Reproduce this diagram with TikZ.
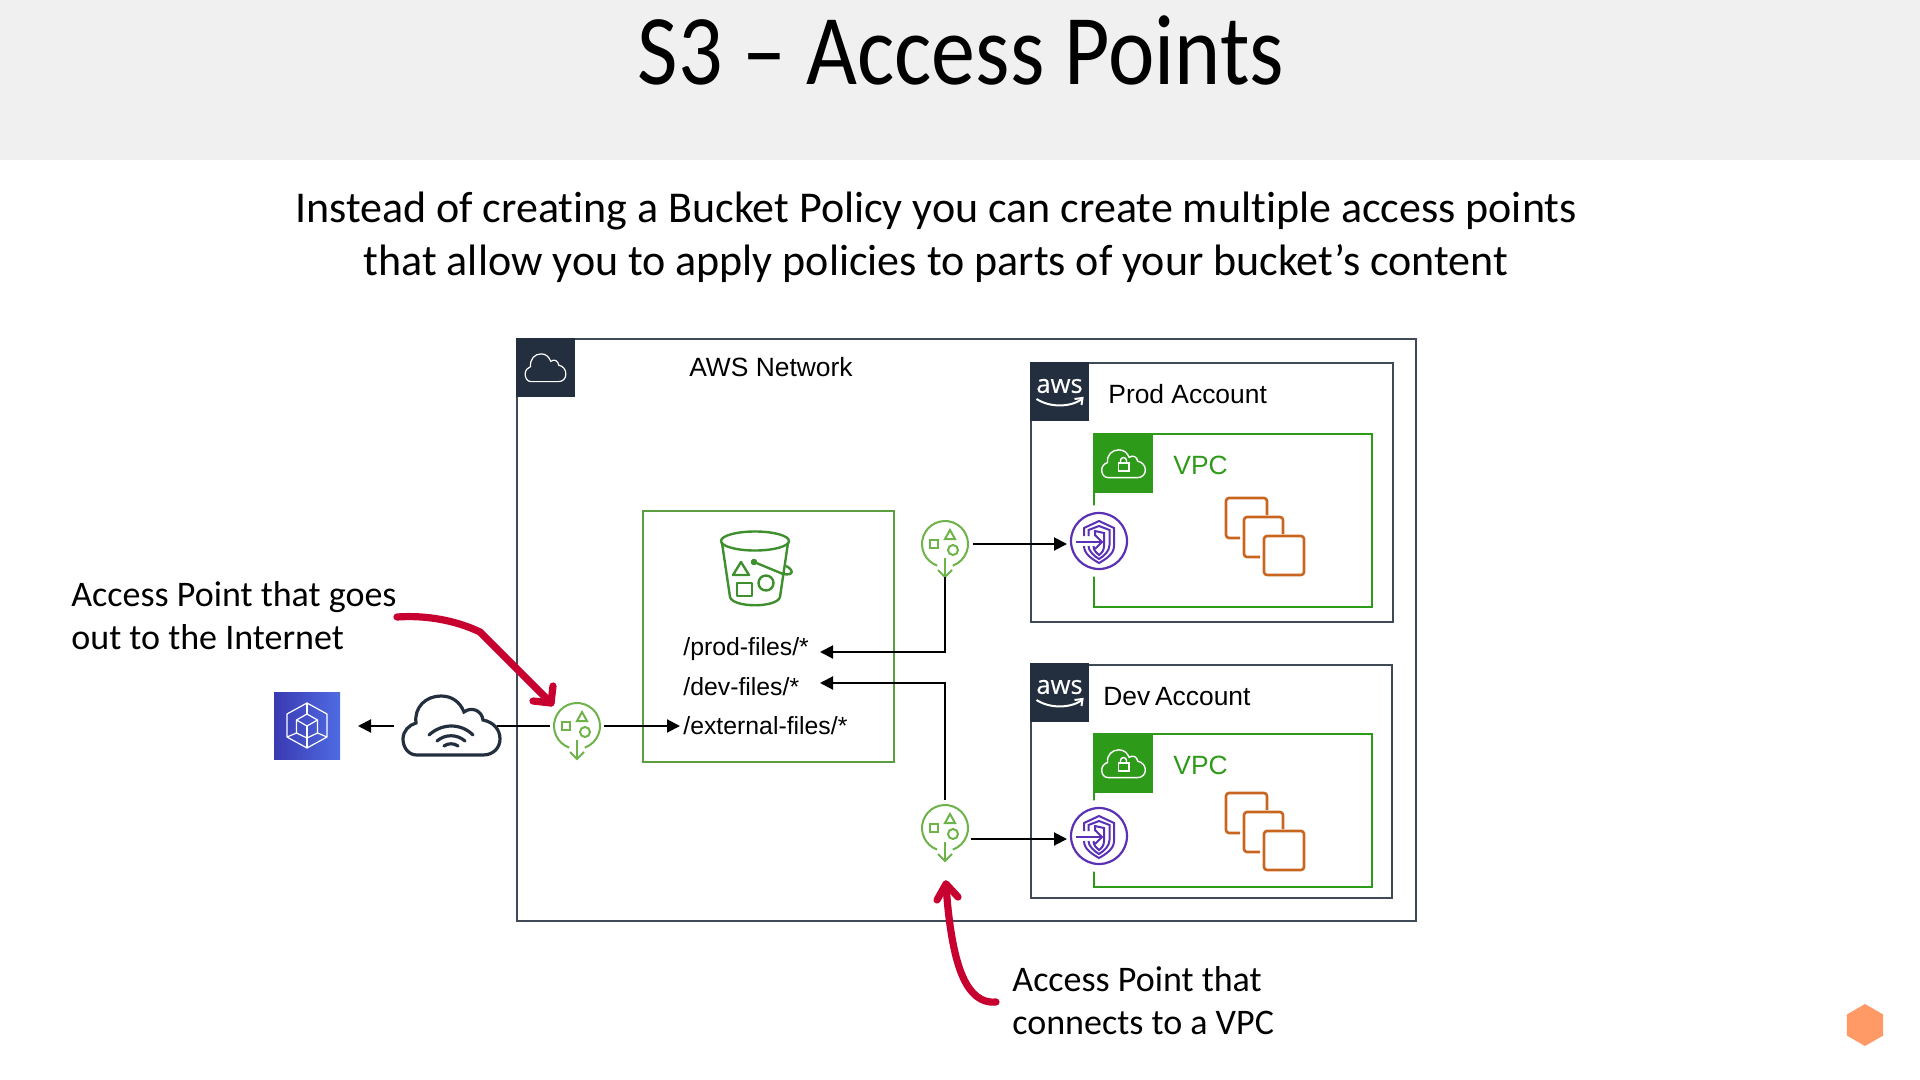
\documentclass[tikz,border=0pt]{standalone}
\usepackage{fontspec}
\usepackage{tikz}
\usetikzlibrary{arrows.meta, positioning, shapes.geometric}
\setmainfont[Ligatures=CommonOff]{Carlito}
\newfontfamily\titlefont[FakeStretch=0.88]{Carlito}
\newfontfamily\arialfont{Liberation Sans}
\newfontfamily\awsfont[FakeBold=0.3]{Open Sans}

\definecolor{awsdark}{HTML}{232F3E}
\definecolor{boxgrey}{HTML}{3F4A56}
\definecolor{vpcgreen}{HTML}{2E9A1A}
\definecolor{bucketgreen}{HTML}{5A9E3F}
\definecolor{bucketicon}{HTML}{3F8F2F}
\definecolor{apgreen}{HTML}{6DB34A}
\definecolor{iconpurple}{HTML}{5A30B5}
\definecolor{ecorange}{HTML}{C8651E}
\definecolor{redmark}{HTML}{C8002F}
\definecolor{cubeleft}{HTML}{3A3AB2}
\definecolor{cuberight}{HTML}{4F6BE2}
\definecolor{logoorange}{HTML}{FF9966}

% one unit is one pixel of the slide
\tikzset{
    cloudshape/.pic={
        \draw (-34.5,30) .. controls (-43.5,30) and (-48.5,22) .. (-48.5,14)
            .. controls (-48.5,6) and (-42.5,0) .. (-35.5,-2)
            .. controls (-37.5,-18) and (-25.5,-29) .. (-10.5,-29)
            .. controls (0.5,-29) and (8.5,-23) .. (12.5,-13)
            .. controls (20.5,-19) and (30.5,-14) .. (31.5,-5)
            .. controls (41.5,-3) and (48.5,4) .. (48.5,14)
            .. controls (48.5,23) and (41.5,30) .. (31.5,30) -- cycle;
    },
    stackshape/.pic={
        \draw (2,-21) -- (2,-38) -- (-39,-38) -- (-39,2) -- (-25,2);
        \draw (18,-2) -- (18,-19) -- (-21,-19) -- (-21,21) -- (-5,21);
        \draw (-1,0) rectangle (39,39);
    }
}

% access point: name, position
\newcommand{\apicon}[2]{
    \node[apnode] (#1) at (#2) {};
    \begin{scope}[shift={(#1)}, apline]
        \draw (110:23) arc[start angle=110, end angle=430, radius=23];
        \draw (-15,-4) rectangle (-7,4);
        \draw (5,-14) -- (10,-5) -- (0,-5) -- cycle;
        \draw (8,6) circle (5);
        \draw (0,14) -- (0,33);
        \draw (-7,26) -- (0,33) -- (7,26);
    \end{scope}
}
% vpc endpoint: name, position
\newcommand{\epicon}[2]{
    \fill[white] (#2) circle (36);
    \node[epnode] (#1) at (#2) {};
    \begin{scope}[shift={(#1)}, epline]
        \draw (-15,-5) -- (-15,-13) -- (0,-20) -- (15,-13) -- (15,5)
            .. controls (15,13) and (7,18) .. (0,22)
            .. controls (-7,18) and (-15,13) .. (-15,5);
        \draw (-10.5,-5) -- (-10.5,-11) -- (0,-15) -- (10.5,-11) -- (10.5,4)
            .. controls (10.5,10) and (5,15) .. (0,18)
            .. controls (-5,15) and (-10.5,10) .. (-10.5,5);
        \draw (-5.5,5) .. controls (-5.5,10) and (-2,12) .. (0,14)
            .. controls (3,12) and (5,9) .. (5,5) -- (5,-8) -- (-4,-10) -- (-4,-5);
        \draw (-23,1) -- (3,1);
        \draw (-4,-6) -- (3,1) -- (-4,8);
    \end{scope}
}
% aws badge: name, north west corner
\newcommand{\awsbadge}[2]{
    \node[badge, anchor=north west] (#1) at (#2) {};
    \node[font=\awsfont\fontsize{12.8}{13}\selectfont, text=white, inner sep=0pt, yshift=2.75pt] (#1text) at (#1) {aws};
    \draw[white, line width=1pt, shift={(#1)}] (-23,7.5) .. controls (-10,16) and (10,16) .. (22,8);
    \draw[white, line width=1pt, shift={(#1)}] (15,7.5) -- (23,6.5) -- (22,13.5);
}
% vpc badge with its cloud and lock
\newcommand{\vpcbadge}[2]{
    \node[vpcflag, anchor=north west] (#1) at (#2) {};
    \pic[xscale=.45, yscale=.47, white, line width=0.7pt] at (#1) {cloudshape};
    \draw[white, line width=0.7pt, shift={(#1)}] (-5,-0.5) rectangle (5.5,7.5);
    \draw[white, line width=0.7pt, shift={(#1)}] (-3,-0.5) -- (-3,-3) arc[start angle=180, end angle=360, radius=3] -- (3,-0.5);
}

\begin{document}
\begin{tikzpicture}[
        x=0.5pt, y=-0.5pt,
        outerbox/.style={rectangle, draw=boxgrey, line width=1pt, inner sep=0pt, outer sep=0pt, anchor=north west},
        vpcbox/.style={rectangle, draw=vpcgreen, line width=0.9pt, inner sep=0pt, outer sep=0pt, anchor=north west},
        badge/.style={rectangle, fill=awsdark, minimum size=29.5pt, inner sep=0pt, outer sep=0pt},
        vpcflag/.style={rectangle, fill=vpcgreen, minimum size=29.5pt, inner sep=0pt, outer sep=0pt},
        label/.style={font=\arialfont\fontsize{13.2}{15}\selectfont, inner sep=0pt, anchor=west},
        pathlabel/.style={font=\arialfont\fontsize{12.4}{15}\selectfont, inner sep=0pt, anchor=west},
        note/.style={font=\fontsize{18}{21.5}\selectfont, align=left, inner sep=0pt, anchor=west},
        apnode/.style={circle, minimum size=23pt, inner sep=0pt, outer sep=0pt},
        apline/.style={draw=apgreen, line width=1pt},
        epnode/.style={circle, draw=iconpurple, line width=1.1pt, fill=white, minimum size=28pt, inner sep=0pt, outer sep=0pt},
        epline/.style={draw=iconpurple, line width=1pt},
        stackline/.style={draw=ecorange, line width=1.3pt, rounded corners=1.5pt},
        conn/.style={-{Stealth[length=6.5pt, width=6.5pt, inset=0pt]}, line width=1pt, black},
        plainline/.style={line width=1pt, black},
        redline/.style={draw=redmark, line width=3.6pt, line cap=round, line join=round}
    ]
        \useasboundingbox (0,0) rectangle (1920,1080);
        % Title band
        \node[rectangle, fill=black!6, minimum width=960pt, minimum height=80pt, inner sep=0pt, anchor=north west] (band) at (0,0) {};
        \node[font=\titlefont\fontsize{50}{50}\selectfont, inner sep=0pt] (title) at (961,50) {S3 – Access Points};
        \node[font=\fontsize{22}{26.5}\selectfont, align=center, inner sep=0pt] (intro) at (936,237) {Instead of creating a Bucket Policy you can create multiple access points\\that allow you to apply policies to parts of your bucket’s content};

        % Boxes
        \node[outerbox, minimum width=449.5pt, minimum height=291pt] (network) at (517,339) {};
        \node[badge, anchor=north west] (networkflag) at (516,338) {};
        \pic[xscale=.42, yscale=.47, white, line width=0.6pt] at (networkflag) {cloudshape};
        \node[label, anchor=center] (networktext) at (771,367) {AWS Network};

        \node[rectangle, draw=bucketgreen, line width=1pt, minimum width=125.5pt, minimum height=125.5pt, inner sep=0pt, outer sep=0pt, anchor=north west] (bucketbox) at (643,511) {};

        \node[outerbox, minimum width=181pt, minimum height=129.5pt] (prod) at (1031,363) {};
        \awsbadge{prodflag}{1030,362}
        \node[label] (prodtext) at (1108,394) {Prod Account};
        \node[vpcbox, minimum width=139pt, minimum height=86.5pt] (prodvpc) at (1094,434) {};
        \vpcbadge{prodvpcflag}{1094,434}
        \node[label, text=vpcgreen] (prodvpctext) at (1173,465) {VPC};
        \pic[stackline] at (1265,536) {stackshape};

        \node[outerbox, minimum width=180.5pt, minimum height=116.5pt] (dev) at (1031,665) {};
        \awsbadge{devflag}{1030,663}
        \node[label] (devtext) at (1103,697) {Dev\hspace{0.18em}Account};
        \node[vpcbox, minimum width=139pt, minimum height=76.5pt] (devvpc) at (1094,734) {};
        \vpcbadge{devvpcflag}{1094,734}
        \node[label, text=vpcgreen] (devvpctext) at (1173,765) {VPC};
        \pic[stackline] at (1265,831) {stackshape};

        % Bucket
        \begin{scope}[draw=bucketicon, line width=1.2pt, line join=round]
            \draw (755,541) ellipse (34 and 9.5);
            \draw (722,543) -- (730,597) .. controls (733,608) and (777,608) .. (780,597) -- (788,543);
            \draw (733,575) -- (749,575) -- (741,562) -- cycle;
            \draw (737,583) rectangle (752,596);
            \draw (766,583) circle (7.5);
            \draw[fill=bucketicon] (754,562) circle (2);
            \draw (754,562) -- (783,574) .. controls (794,576) and (794,570) .. (786,566);
        \end{scope}
        \node[pathlabel] (prodpath) at (683,649) {/prod-files/*};
        \node[pathlabel] (devpath) at (683,687) {/dev-files/*};
        \node[pathlabel] (extpath) at (683,726) {/external-files/*};

        % Icons
        \apicon{apnet}{577,726}
        \apicon{approd}{945,544}
        \apicon{apdev}{945,828}
        \epicon{epprod}{1099,541}
        \epicon{epdev}{1099,836}

        \node[rectangle, minimum width=48.5pt, minimum height=30pt, inner sep=0pt, outer sep=0pt] (internet) at (451.5,726) {};
        \pic[draw=awsdark, line width=1.6pt] at (451.5,725) {cloudshape};
        \begin{scope}[draw=awsdark, line width=1.6pt, line cap=round]
            \draw (429,735) .. controls (442,723) and (461,723) .. (473,735);
            \draw (437,741) .. controls (445,734) and (457,734) .. (465,741);
            \draw (444,746) .. controls (448,743) and (454,743) .. (458,746);
        \end{scope}

        \node[rectangle, left color=cubeleft, right color=cuberight, minimum width=33pt, minimum height=33.5pt, inner sep=0pt, outer sep=0pt] (cube) at (307,725.5) {};
        \begin{scope}[draw=white, line width=0.6pt, line join=round]
            \draw (307,703) -- (327,714) -- (327,737) -- (307,748) -- (287,737) -- (287,714) -- cycle;
            \draw (307,714) -- (317.5,720) -- (317.5,733) -- (307,738) -- (296.5,733) -- (296.5,720) -- cycle;
            \draw (296.5,720) -- (307,726) -- (317.5,720);
            \draw (307,726) -- (307,738);
            \draw (307,703) -- (307,714);
            \draw (307,738) -- (307,748);
            \draw (287,737) -- (296.5,733);
            \draw (327,737) -- (317.5,733);
        \end{scope}

        % Connectors
        \coordinate (prodin) at (820,652);
        \coordinate (devin) at (820,683);
        \coordinate (devout) at (971,839);
        \draw[plainline, shorten <=2pt, shorten >=-1.5pt] (apnet.west) -- (internet.east);
        \draw[conn, shorten <=4.5pt, shorten >=9pt] (internet.west) -- (cube.east |- internet.west);
        \draw[conn, shorten <=2pt, shorten >=1.5pt] (apnet.east) -- (extpath.west |- apnet.east);
        \draw[conn, shorten <=2.5pt, shorten >=2pt] (approd.east) -- (epprod.west |- approd.east);
        \draw[conn, shorten >=2pt] (devout) -- (epdev.west |- devout);
        \draw[conn, shorten <=5pt] (approd.south) |- (prodin);
        \draw[conn, shorten <=2.5pt] (apdev.north) |- (devin);

        % Notes
        \node[note] (notenet) at (71,616) {Access Point that goes\\out to the Internet};
        \node[note] (notevpc) at (1012,1001) {Access Point that\\connects to a VPC};
        \coordinate (markneta) at (397,617);
        \coordinate (marknetb) at (551,703);
        \coordinate (markvpca) at (996,1002);
        \coordinate (markvpcb) at (946,884);
        \draw[redline] (markneta) .. controls (425,615) and (455,620) .. (480,632) -- (marknetb);
        \draw[redline] (533,701) -- (marknetb) -- (553,686);
        \draw[redline] (markvpca) .. controls (965,1005) and (955,960) .. (950,925) .. controls (948,910) and (947,900) .. (markvpcb);
        \draw[redline] (937,900) -- (markvpcb) -- (958,897);

        % Logo
        \node[regular polygon, regular polygon sides=6, shape border rotate=30, fill=logoorange, minimum size=21pt, inner sep=0pt] (logo) at (1865,1025) {};
    \end{tikzpicture}
\end{document}
